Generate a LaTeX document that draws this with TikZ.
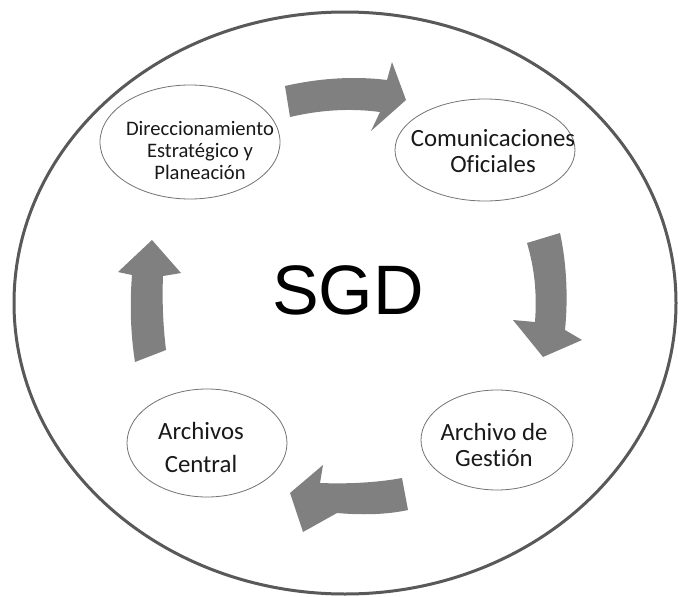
\documentclass[tikz,border=0pt]{standalone}
\usepackage{fontspec}
\setmainfont[Ligatures={NoCommon}]{Carlito}
\newfontfamily\sgdfont{Liberation Sans}
\begin{document}
\begin{tikzpicture}[x=1pt,y=-1pt,
  smallell/.style={draw=black!55,line width=0.8pt},
  blockarrow/.style={fill=black!50,draw=none},
  lbl/.style={align=center,text=black!90,inner sep=0pt}]
\useasboundingbox (0,0) rectangle (678,597);
\fill[white] (0,0) rectangle (678,597);
% outer circle
\draw[draw=black!65,line width=3pt] (345,303) ellipse [x radius=331,y radius=291];
% small ellipses
\draw[smallell] (190,142) ellipse [x radius=90,y radius=57];
\draw[smallell] (485,150) ellipse [x radius=90,y radius=51];
\draw[smallell] (497,440) ellipse [x radius=76,y radius=50];
\draw[smallell] (207,443) ellipse [x radius=80,y radius=54];
% nodes with text
\node[lbl,font=\fontsize{20.6}{22}\selectfont] (dir) at (200,150) {Direccionamiento\\Estratégico y\\Planeación};
\node[lbl,font=\fontsize{24.8}{25.5}\selectfont] (com) at (493,151) {Comunicaciones\\Oficiales};
\node[lbl,font=\fontsize{24.8}{26.5}\selectfont] (ges) at (494,445) {Archivo de\\Gestión};
\node[lbl,font=\fontsize{24.8}{33}\selectfont] (cen) at (201,447) {Archivos\\Central};
\node[inner sep=0pt,font=\sgdfont\fontsize{70}{70}\selectfont] (sgd) at (348,290) {SGD};
% block arrows
\fill[blockarrow] (285,86) .. controls (320,78) and (355,76) .. (387,80) -- (392,62) -- (406,100) -- (371,131) -- (380,112) .. controls (350,108) and (320,110) .. (290,117) -- cycle;
\fill[blockarrow] (527,243) -- (560,233) .. controls (567,265) and (568,300) .. (565,330) -- (582,340) -- (543,357) -- (513,320) -- (535,322) .. controls (537,295) and (535,270) .. (527,243) -- cycle;
\fill[blockarrow] (402,478) -- (408,510) .. controls (385,515) and (360,515) .. (337,513) -- (303,532) -- (290,493) -- (323,465) -- (320,483) .. controls (345,484) and (375,483) .. (402,478) -- cycle;
\fill[blockarrow] (135,362) .. controls (130,330) and (130,300) .. (132,275) -- (118,272) -- (152,240) -- (181,273) -- (163,276) .. controls (162,300) and (163,325) .. (166,350) -- cycle;
\end{tikzpicture}
\end{document}
